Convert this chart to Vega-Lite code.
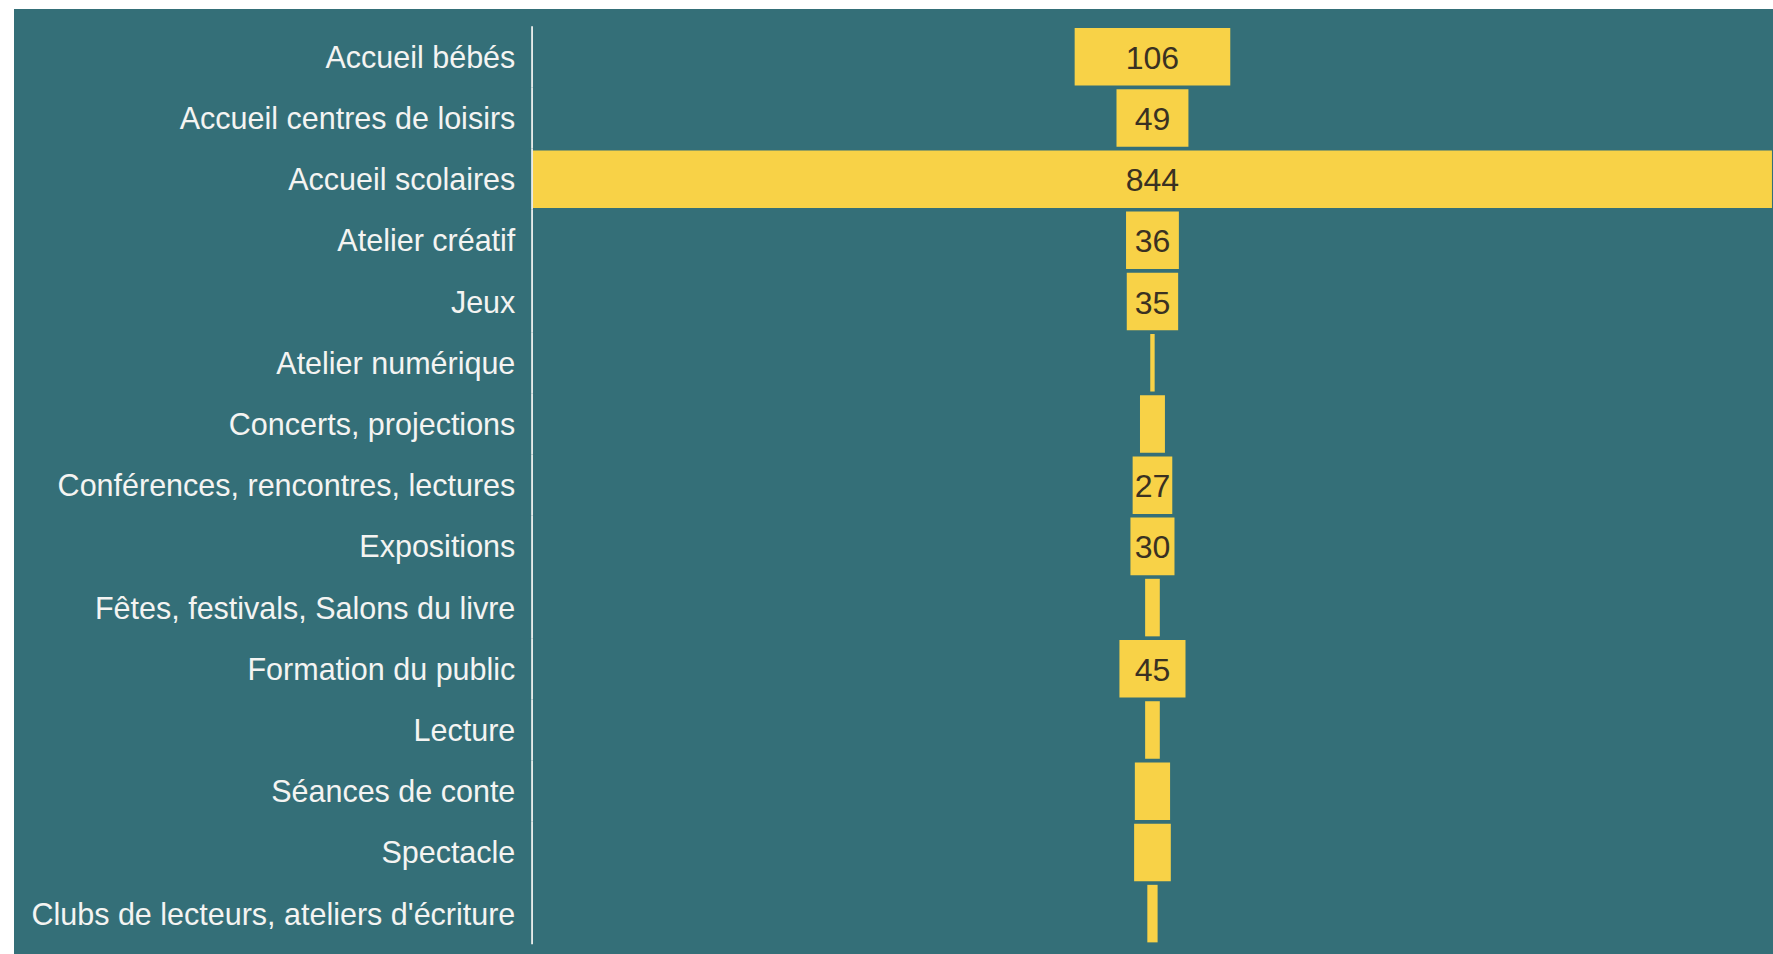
{
  "$schema": "https://vega.github.io/schema/vega-lite/v6.json",
  "width": 1773,
  "height": 954,
  "autosize": {"type": "fit", "contains": "padding"},
  "padding": {"left": 14, "top": 9, "right": 0, "bottom": 0},
  "background": "#ffffff",
  "config": {
    "view": {"fill": "#346f78", "stroke": null},
    "font": "Liberation Sans"
  },
  "data": {
    "values": [
      {"cat": "Accueil bébés", "value": 106},
      {"cat": "Accueil centres de loisirs", "value": 49},
      {"cat": "Accueil scolaires", "value": 844},
      {"cat": "Atelier créatif", "value": 36},
      {"cat": "Jeux", "value": 35},
      {"cat": "Atelier numérique", "value": 3},
      {"cat": "Concerts, projections", "value": 17},
      {"cat": "Conférences, rencontres, lectures", "value": 27},
      {"cat": "Expositions", "value": 30},
      {"cat": "Fêtes, festivals, Salons du livre", "value": 10},
      {"cat": "Formation du public", "value": 45},
      {"cat": "Lecture", "value": 10},
      {"cat": "Séances de conte", "value": 24},
      {"cat": "Spectacle", "value": 25},
      {"cat": "Clubs de lecteurs, ateliers d'écriture", "value": 7}
    ]
  },
  "encoding": {
    "y": {
      "field": "cat",
      "type": "nominal",
      "sort": null,
      "axis": null,
      "scale": {"paddingInner": 0.06, "paddingOuter": 0.25, "align": 0.62}
    }
  },
  "layer": [
    {
      "mark": {"type": "bar", "color": "#f8d247", "height": {"band": 1}},
      "encoding": {
        "x": {
          "field": "value",
          "type": "quantitative",
          "stack": "center",
          "axis": null,
          "scale": {"domain": [-353.5, 844.7], "nice": false, "zero": false}
        }
      }
    },
    {
      "mark": {"type": "bar", "color": "#f2f2f0", "height": {"band": 1.064}},
      "encoding": {
        "x": {"datum": -1.2},
        "x2": {"datum": 0}
      }
    },
    {
      "mark": {"type": "text", "align": "right", "baseline": "middle", "fontSize": 30.5, "dy": 2, "color": "#f4f4f2"},
      "encoding": {
        "x": {"datum": -12},
        "text": {"field": "cat", "type": "nominal"}
      }
    },
    {
      "transform": [{"filter": "datum.value >= 27"}],
      "mark": {"type": "text", "align": "center", "baseline": "middle", "fontSize": 32, "dy": 2, "color": "#3a3122"},
      "encoding": {
        "x": {"datum": 422},
        "text": {"field": "value", "type": "quantitative"}
      }
    }
  ]
}
